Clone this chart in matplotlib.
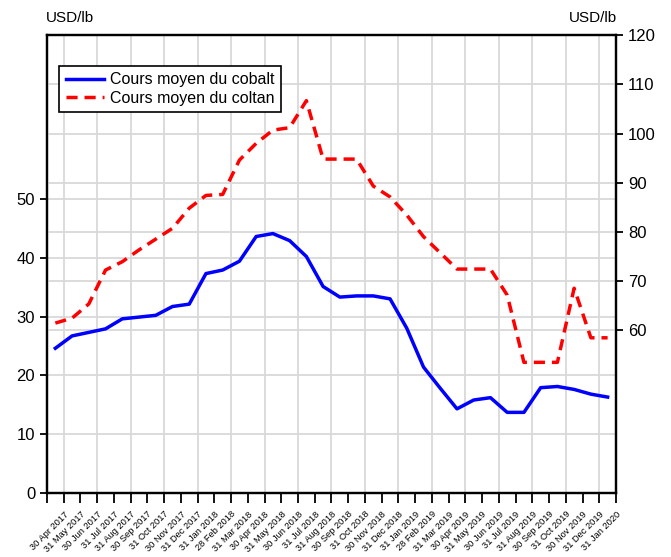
import matplotlib
matplotlib.use("Agg")
import matplotlib.pyplot as plt
from matplotlib import font_manager
import numpy as np

months = ["30 Apr 2017", "31 May 2017", "30 Jun 2017", "31 Jul 2017", "31 Aug 2017",
          "30 Sep 2017", "31 Oct 2017", "30 Nov 2017", "31 Dec 2017", "31 Jan 2018",
          "28 Feb 2018", "31 Mar 2018", "30 Apr 2018", "31 May 2018", "30 Jun 2018",
          "31 Jul 2018", "31 Aug 2018", "30 Sep 2018", "31 Oct 2018", "30 Nov 2018",
          "31 Dec 2018", "31 Jan 2019", "28 Feb 2019", "31 Mar 2019", "30 Apr 2019",
          "31 May 2019", "30 Jun 2019", "31 Jul 2019", "31 Aug 2019", "30 Sep 2019",
          "31 Oct 2019", "30 Nov 2019", "31 Dec 2019", "31 Jan 2020"]

cobalt = [24.6, 26.7, 27.3, 27.9, 29.6, 29.9, 30.2, 31.7, 32.1, 37.3,
          37.9, 39.4, 43.6, 44.1, 42.9, 40.2, 35.1, 33.3, 33.5, 33.5,
          33.0, 28.0, 21.4, 17.8, 14.3, 15.8, 16.2, 13.7, 13.7, 17.9,
          18.1, 17.6, 16.8, 16.3]

coltan = [61.4, 62.4, 65.3, 72.2, 73.9, 76.3, 78.5, 80.7, 84.8, 87.4,
          87.6, 94.6, 98.0, 100.7, 101.2, 106.7, 94.8, 94.8, 94.8, 89.3,
          87.1, 83.4, 79.0, 75.7, 72.4, 72.4, 72.4, 67.1, 53.4, 53.4,
          53.4, 68.5, 58.4, 58.4]

left_ticks = [0, 10, 20, 30, 40, 50]
right_ticks = [60, 70, 80, 90, 100, 110, 120]

# narrow face if there is one, else plain Liberation Sans
installed = {f.name for f in font_manager.fontManager.ttflist}
narrow = "Liberation Sans Narrow" in installed
plt.rcParams["font.family"] = ["Liberation Sans Narrow" if narrow else "Liberation Sans",
                               "DejaVu Sans"]
big = 13 if narrow else 12

fig = plt.figure(figsize=(6.71, 5.57), dpi=100)
ax1 = fig.add_axes([0.070, 0.115, 0.848, 0.8215])
ax2 = ax1.twinx()

x = np.arange(len(months))
grid_kw = dict(color="#d9d9d9", linewidth=1.3)

# left axis (cobalt)
ax1.set_xlim(-0.5, len(months) - 0.5)
ax1.set_ylim(0, 77.8)
ax1.set_yticks(left_ticks)
for t in left_ticks[1:]:
    ax1.axhline(t, zorder=0, **grid_kw)
for b in np.arange(0.5, len(months) - 1, 2):
    ax1.axvline(b, zorder=0, **grid_kw)

# right axis (coltan)
ax2.set_ylim(26.8, 120)
ax2.set_yticks(right_ticks)
ax2.yaxis.grid(True, **grid_kw)
ax2.set_axisbelow(True)

bounds = np.arange(-0.5, len(months), 1)
ax1.set_xticks(bounds)
ax1.set_xticklabels([""] + months, rotation=45, ha="right",
                    rotation_mode="anchor", fontsize=6.7,
                    family=["Liberation Sans", "DejaVu Sans"])
ax1.tick_params(axis="x", length=7, width=1.3, pad=5)
ax1.tick_params(axis="y", length=5, width=1.3, labelsize=big)
ax2.tick_params(axis="y", length=5, width=1.3, labelsize=big)

for ax in (ax1, ax2):
    for s in ax.spines.values():
        s.set_linewidth(1.6)
        s.set_color("black")

l1, = ax2.plot(x, cobalt, color="#0000ff", linewidth=2.5,
               transform=ax1.transData, label="Cours moyen du cobalt", zorder=3)
l2, = ax2.plot(x, coltan, color="#ff0000", linewidth=2.5, dashes=(3.2, 2.0),
               label="Cours moyen du coltan", zorder=3)

leg = ax2.legend(handles=[l1, l2], loc="upper left", bbox_to_anchor=(0.0216, 0.933),
                 borderaxespad=0, fancybox=False, framealpha=1, edgecolor="black",
                 fontsize=12 if narrow else 11.5, handlelength=2.4, handletextpad=0.4,
                 borderpad=0.4, labelspacing=0.2)
leg.get_frame().set_linewidth(1.2)

fig.text(0.068, 0.968, "USD/lb", ha="left", va="center", fontsize=11)
fig.text(0.920, 0.968, "USD/lb", ha="right", va="center", fontsize=11)

fig.savefig("out.png", dpi=100)
